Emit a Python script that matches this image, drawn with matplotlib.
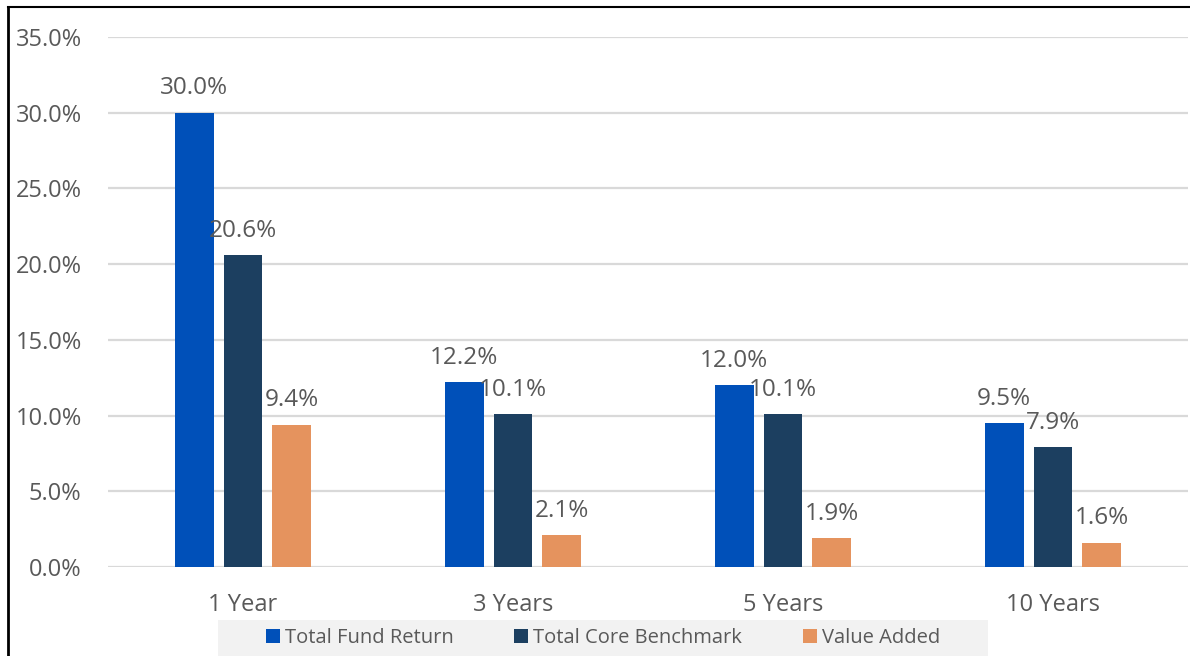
import numpy as np
import matplotlib
matplotlib.use('Agg')
import matplotlib.pyplot as plt
from matplotlib.patches import Rectangle
from matplotlib.lines import Line2D
from matplotlib.ticker import FuncFormatter

plt.rcParams['font.family'] = ['Open Sans', 'DejaVu Sans']

# 数据
periods = ['1 Year', '3 Years', '5 Years', '10 Years']
series_names = ['Total Fund Return', 'Total Core Benchmark', 'Value Added']
fund_return = [30.0, 12.2, 12.0, 9.5]
core_benchmark = [20.6, 10.1, 10.1, 7.9]
value_added = [9.4, 2.1, 1.9, 1.6]
colors = ['#0050B9', '#1C3F60', '#E5935E']
text_color = '#595959'

fig = plt.figure(figsize=(11.9, 6.56), dpi=100)
ax = fig.add_axes([108/1190, 1 - 567/656, 1080/1190, (567 - 37)/656])

x = np.arange(len(periods))
width = 0.144
step = 0.181
for i, (vals, name, c) in enumerate(zip([fund_return, core_benchmark, value_added], series_names, colors)):
    pos = x + (i - 1) * step
    ax.bar(pos, vals, width=width, color=c, label=name, zorder=3)
    for p, v in zip(pos, vals):
        ax.annotate(f'{v:.1f}%', (p, v), xytext=(0, 9), textcoords='offset points',
                    ha='center', va='bottom', fontsize=17.5, color=text_color)

ax.set_xlim(-0.5, 3.5)
ax.set_ylim(0, 35)
ax.set_yticks(np.arange(0, 36, 5))
ax.yaxis.set_major_formatter(FuncFormatter(lambda v, _: f'{v:.1f}%'))
ax.set_xticks(x)
ax.set_xticklabels(periods)
ax.tick_params(axis='both', length=0, labelsize=17, labelcolor=text_color)
ax.tick_params(axis='y', pad=19)
ax.tick_params(axis='x', pad=19)
ax.grid(axis='y', color='#D9D9D9', linewidth=1.6, zorder=0)
for s in ax.spines.values():
    s.set_visible(False)

# 图例背景
fig.patches.append(Rectangle((218/1190, 0), (988 - 218)/1190, 36/656,
                             transform=fig.transFigure, facecolor='#F2F2F2',
                             edgecolor='none', zorder=0))
leg = fig.legend(loc='center', bbox_to_anchor=(603/1190, 18/656), ncol=3,
                 frameon=False, fontsize=14.5, handlelength=0.7, handleheight=0.7,
                 handletextpad=0.25, columnspacing=3.0, borderpad=0)
for t in leg.get_texts():
    t.set_color(text_color)

# 边框线
fig.add_artist(Line2D([8/1190, 8/1190], [0, 1 - 7/656], transform=fig.transFigure,
                      color='black', linewidth=2))
fig.add_artist(Line2D([8/1190, 1], [1 - 7/656, 1 - 7/656], transform=fig.transFigure,
                      color='black', linewidth=1.5))

fig.savefig('out.png', dpi=100)
